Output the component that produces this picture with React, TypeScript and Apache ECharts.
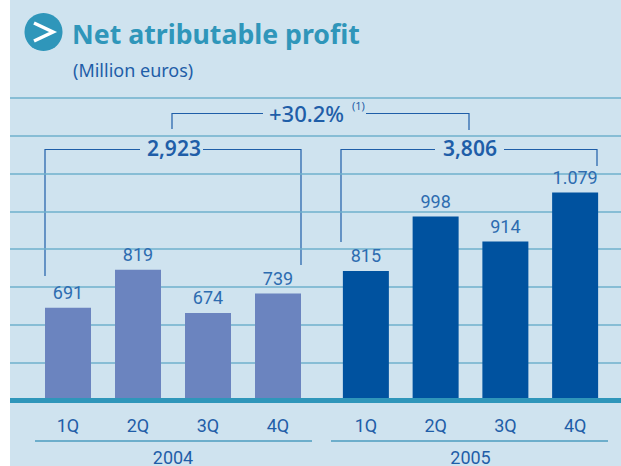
import React, { useEffect, useRef } from "react";
import * as echarts from "echarts";

const quarters = ["1Q", "2Q", "3Q", "4Q"];
const values2004 = [691, 819, 674, 739];
const values2005 = [815, 998, 914, 1079];
const labels2004 = ["691", "819", "674", "739"];
const labels2005 = ["815", "998", "914", "1.079"];
const axisMin = 381;
const axisMax = 1397;
const axisStep = 127;

const BLUE = "#1f5ea8";
const TEAL = "#2f96ba";
const NARROW = "Roboto, sans-serif";
const SANS = "'Noto Sans', sans-serif";

const bracket = (points: number[][]) => ({
  type: "polyline",
  silent: true,
  shape: { points },
  style: { stroke: "#1f5ea8", lineWidth: 1.2, fill: "none" },
});
const text = (x: number, y: number, t: string, fontSize: number, fontWeight: any, fill: string, fontFamily = SANS, textAlign = "left") => ({
  type: "text",
  x,
  y,
  style: { text: t, fontSize, fontWeight, fill, fontFamily, textAlign, textVerticalAlign: "middle" },
});

export default function App() {
  const ref = useRef<HTMLDivElement>(null);
  useEffect(() => {
    document.body.style.margin = "0";
    document.body.style.background = "#fff";
    const chart = echarts.init(ref.current!, undefined, { renderer: "svg" });
    const yHidden = { type: "value", min: axisMin, max: axisMax, axisLabel: { show: false }, axisTick: { show: false }, axisLine: { show: false }, splitLine: { show: false } };
    const xBase = {
      type: "category",
      data: quarters,
      axisTick: { show: false },
      axisLine: { show: false },
      axisLabel: { color: BLUE, fontSize: 18, margin: 16, fontFamily: NARROW },
    };
    const barSeries = (idx: number, data: number[], labels: string[], color: string) => ({
      type: "bar",
      xAxisIndex: idx,
      yAxisIndex: idx,
      data,
      barWidth: 46,
      itemStyle: { color },
      label: {
        show: true,
        position: "top",
        distance: 6,
        color: "#2d6cb0",
        fontSize: 18,
        fontFamily: NARROW,
        formatter: (p: any) => labels[p.dataIndex],
      },
    });
    chart.setOption({
      animation: false,
      grid: [
        { left: 10, right: 0, top: 98, bottom: 66, outerBoundsMode: "none" },
        { left: 33, width: 280, top: 98, bottom: 66, outerBoundsMode: "none" },
        { left: 331, width: 279, top: 98, bottom: 66, outerBoundsMode: "none" },
      ],
      xAxis: [
        { type: "category", gridIndex: 0, data: [""], axisTick: { show: false }, axisLabel: { show: false }, axisLine: { show: true, lineStyle: { color: TEAL, width: 5, cap: "butt" } }, z: 5 },
        { ...xBase, gridIndex: 1, name: "2004", nameLocation: "middle", nameGap: 48, nameTextStyle: { color: BLUE, fontSize: 18, fontFamily: NARROW } },
        { ...xBase, gridIndex: 2, name: "2005", nameLocation: "middle", nameGap: 48, nameTextStyle: { color: BLUE, fontSize: 18, fontFamily: NARROW } },
      ],
      yAxis: [
        { type: "value", gridIndex: 0, min: axisMin, max: axisMax, interval: axisStep, axisLabel: { show: false }, axisTick: { show: false }, axisLine: { show: false }, splitLine: { show: true, lineStyle: { color: "#6fb1cd", width: 1.5 } } },
        { ...yHidden, gridIndex: 1 },
        { ...yHidden, gridIndex: 2 },
      ],
      series: [
        barSeries(1, values2004, labels2004, "#6b84bf"),
        barSeries(2, values2005, labels2005, "#00529f"),
      ],
      graphic: [
        { type: "circle", shape: { cx: 43.5, cy: 32, r: 19 }, style: { fill: TEAL } },
        { type: "polyline", shape: { points: [[34, 23], [53, 32], [34, 41]] }, style: { stroke: "#fff", lineWidth: 3.5, fill: "none" } },
        text(72, 33, "Net atributable profit", 26.7, 700, TEAL),
        text(73, 70, "(Million euros)", 18, 400, BLUE),
        bracket([[172, 129], [172, 113.5], [263, 113.5]]),
        bracket([[366, 113.5], [469, 113.5], [469, 130]]),
        text(269, 113, "+30.2%", 22, 500, BLUE),
        text(352, 105, "(1)", 11, 400, BLUE),
        bracket([[45, 276], [45, 149.5], [140, 149.5]]),
        bracket([[203, 149.5], [301, 149.5], [301, 265]]),
        text(147, 148, "2,923", 21, 600, BLUE),
        bracket([[341, 242], [341, 149.5], [435, 149.5]]),
        bracket([[504, 149.5], [597, 149.5], [597, 166]]),
        text(443, 148, "3,806", 21, 600, BLUE),
        { type: "line", shape: { x1: 35, y1: 441, x2: 312, y2: 441 }, style: { stroke: "#4d9cbf", lineWidth: 1.5 } },
        { type: "line", shape: { x1: 331, y1: 441, x2: 608, y2: 441 }, style: { stroke: "#4d9cbf", lineWidth: 1.5 } },
      ],
    });
    return () => chart.dispose();
  }, []);
  return (
    <div
      ref={ref}
      style={{ width: 621, height: 466, background: "linear-gradient(to right,#fff 10px,#cfe3ef 10px)" }}
    />
  );
}
